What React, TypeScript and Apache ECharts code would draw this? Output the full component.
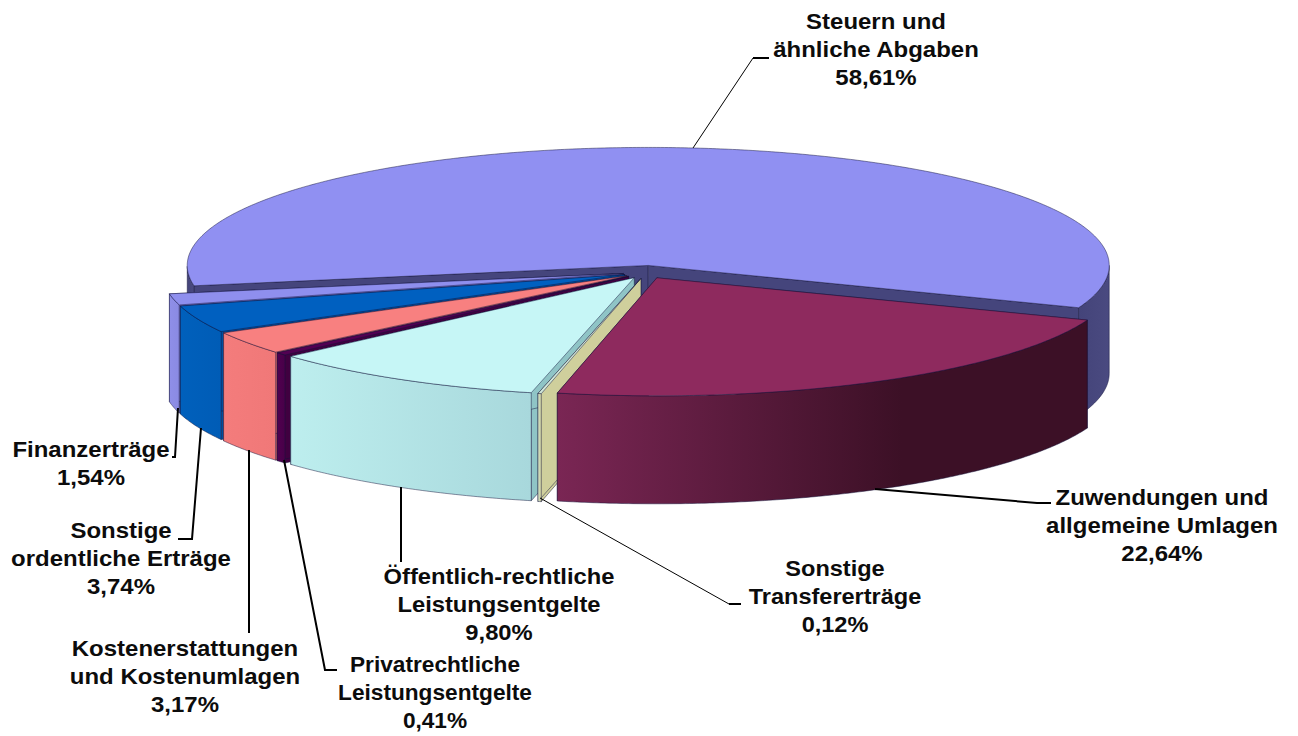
import React, { useEffect, useRef } from "react";
import * as echarts from "echarts";

// Listed counter-clockwise from the first cut, which is also back-to-front paint order.
const categories = [
  "Steuern und\nähnliche Abgaben",
  "Finanzerträge",
  "Sonstige\nordentliche Erträge",
  "Kostenerstattungen\nund Kostenumlagen",
  "Privatrechtliche\nLeistungsentgelte",
  "Öffentlich-rechtliche\nLeistungsentgelte",
  "Sonstige\nTransfererträge",
  "Zuwendungen und\nallgemeine Umlagen",
];
const shares = [58.61, 1.54, 3.74, 3.17, 0.41, 9.8, 0.12, 22.64];

const topColors = ["#9090f2", "#8f8fee", "#0060c0", "#f88080", "#520052", "#c6f6f6", "#cfe6d8", "#8e2a5e"];
const wallLeft = ["#44447a", "#8f8fe8", "#0060bc", "#f47c7c", "#500050", "#bdeeee", "#cfe0c8", "#7a2654"];
const wallRight = ["#4a4a80", "#8a8ae2", "#005cb6", "#f07878", "#480048", "#a8d8dc", "#cfcf9c", "#3c1026"];
const wallStop = [1, 1, 1, 1, 1, 1, 1, 0.65];
const cutColors = ["#45457c", "#7a7ad0", "#004f9e", "#d86a6a", "#400040", "#8fc4c6", "#cfcf9c", "#5e1a3e"];

const CX = 646;
const CY = 272;
const RX = 461;
const RY = 118;
const DEPTH = 108;
const EXPLODE_X = 0.05;
const EXPLODE_Y = 0.056;
const FIRST_CUT = 21;
const EDGE = "rgba(20,20,60,0.6)";

const total = shares.reduce((a, b) => a + b, 0);
const rad = (d: number) => (d * Math.PI) / 180;

function renderSlice(params: any, api: any) {
  const i = params.dataIndex;
  const span = (360 * api.value(0)) / total;
  const before = shares.slice(0, i).reduce((a, b) => a + (360 * b) / total, 0);
  const a1 = FIRST_CUT - before;
  const a0 = a1 - span;
  const mid = rad((a0 + a1) / 2);
  const ox = CX + Math.cos(mid) * RX * EXPLODE_X;
  const oy = CY + Math.sin(mid) * RY * EXPLODE_Y;
  const pt = (deg: number, drop = 0) => [ox + Math.cos(rad(deg)) * RX, oy + Math.sin(rad(deg)) * RY + drop];

  const children: any[] = [];
  const edge = { stroke: EDGE, lineWidth: 0.8 };
  const poly = (points: number[][], fill: any) => ({ type: "polygon", shape: { points }, style: { fill, ...edge } });

  // radial cut walls
  for (const cut of [a0, a1]) {
    children.push(poly([[ox, oy], pt(cut), pt(cut, DEPTH), [ox, oy + DEPTH]], cutColors[i]));
  }
  // outer rim, only where it faces the viewer
  const steps = Math.max(2, Math.ceil(span * 2));
  let run: number[] = [];
  const flush = () => {
    if (run.length > 1) {
      const top = run.map((d) => pt(d));
      const bottom = run.map((d) => pt(d, DEPTH)).reverse();
      children.push(
        poly(
          [...top, ...bottom],
          new echarts.graphic.LinearGradient(0, 0, 1, 0, [
            { offset: 0, color: wallLeft[i] },
            { offset: wallStop[i], color: wallRight[i] },
            { offset: 1, color: wallRight[i] },
          ])
        )
      );
    }
    run = [];
  };
  for (let s = 0; s <= steps; s++) {
    const d = a0 + (span * s) / steps;
    if (Math.sin(rad(d)) >= -0.0001) run.push(d);
    else flush();
  }
  flush();
  // top face
  const arc: number[][] = [];
  for (let s = 0; s <= steps; s++) arc.push(pt(a0 + (span * s) / steps));
  children.push(poly([[ox, oy], ...arc], topColors[i]));
  return { type: "group", children };
}

const fmt = (v: number) => v.toFixed(2).replace(".", ",") + "%";
const labelAnchors = [
  [876, 7], [91, 435], [121, 516], [185, 634], [435, 651], [499, 562], [835, 554], [1162, 483],
];
const labelStretch = [1.09, 1.09, 1.09, 1.09, 1.03, 1.08, 1.07, 1.09];
const leaderLines = [
  { w: 1, points: [[693, 148], [753, 58]] },
  { w: 2, points: [[753, 58], [769, 58]] },
  { w: 2, points: [[178, 408], [175, 457], [172, 457]] },
  { w: 2, points: [[201, 428], [192, 539], [178, 539]] },
  { w: 2, points: [[249, 450], [249, 633]] },
  { w: 2, points: [[284, 460], [325, 670], [337, 670]] },
  { w: 2, points: [[401, 487], [401, 562]] },
  { w: 1, points: [[540, 498], [729, 604]] },
  { w: 2, points: [[729, 604], [741, 604]] },
  { w: 2, points: [[875, 489], [1037, 503], [1051, 503]] },
];

export default function App() {
  const ref = useRef<HTMLDivElement>(null);
  useEffect(() => {
    const chart = echarts.init(ref.current!, undefined, { renderer: "svg" });
    chart.setOption({
      animation: false,
      backgroundColor: "#ffffff",
      series: [
        {
          type: "custom",
          coordinateSystem: "none",
          renderItem: renderSlice,
          data: shares.map((v, i) => ({ name: categories[i], value: [v] })),
          silent: true,
        },
      ],
      graphic: [
        ...leaderLines.map((l) => ({
          type: "polyline",
          z: 10,
          shape: { points: l.points },
          style: { stroke: "#000", lineWidth: l.w, fill: "none" },
        })),
        ...categories.map((c, i) => ({
          type: "text",
          z: 11,
          x: labelAnchors[i][0],
          y: labelAnchors[i][1],
          scaleX: labelStretch[i],
          style: {
            text: `${c}\n${fmt(shares[i])}`,
            align: "center",
            verticalAlign: "top",
            lineHeight: 28,
            fontFamily: "Liberation Sans",
            fontWeight: "bold",
            fontSize: 22,
            fill: "#0c0c0c",
          },
        })),
      ],
    });
    return () => chart.dispose();
  }, []);
  return <div ref={ref} style={{ position: "absolute", left: 0, top: 0, width: 1298, height: 736 }} />;
}
